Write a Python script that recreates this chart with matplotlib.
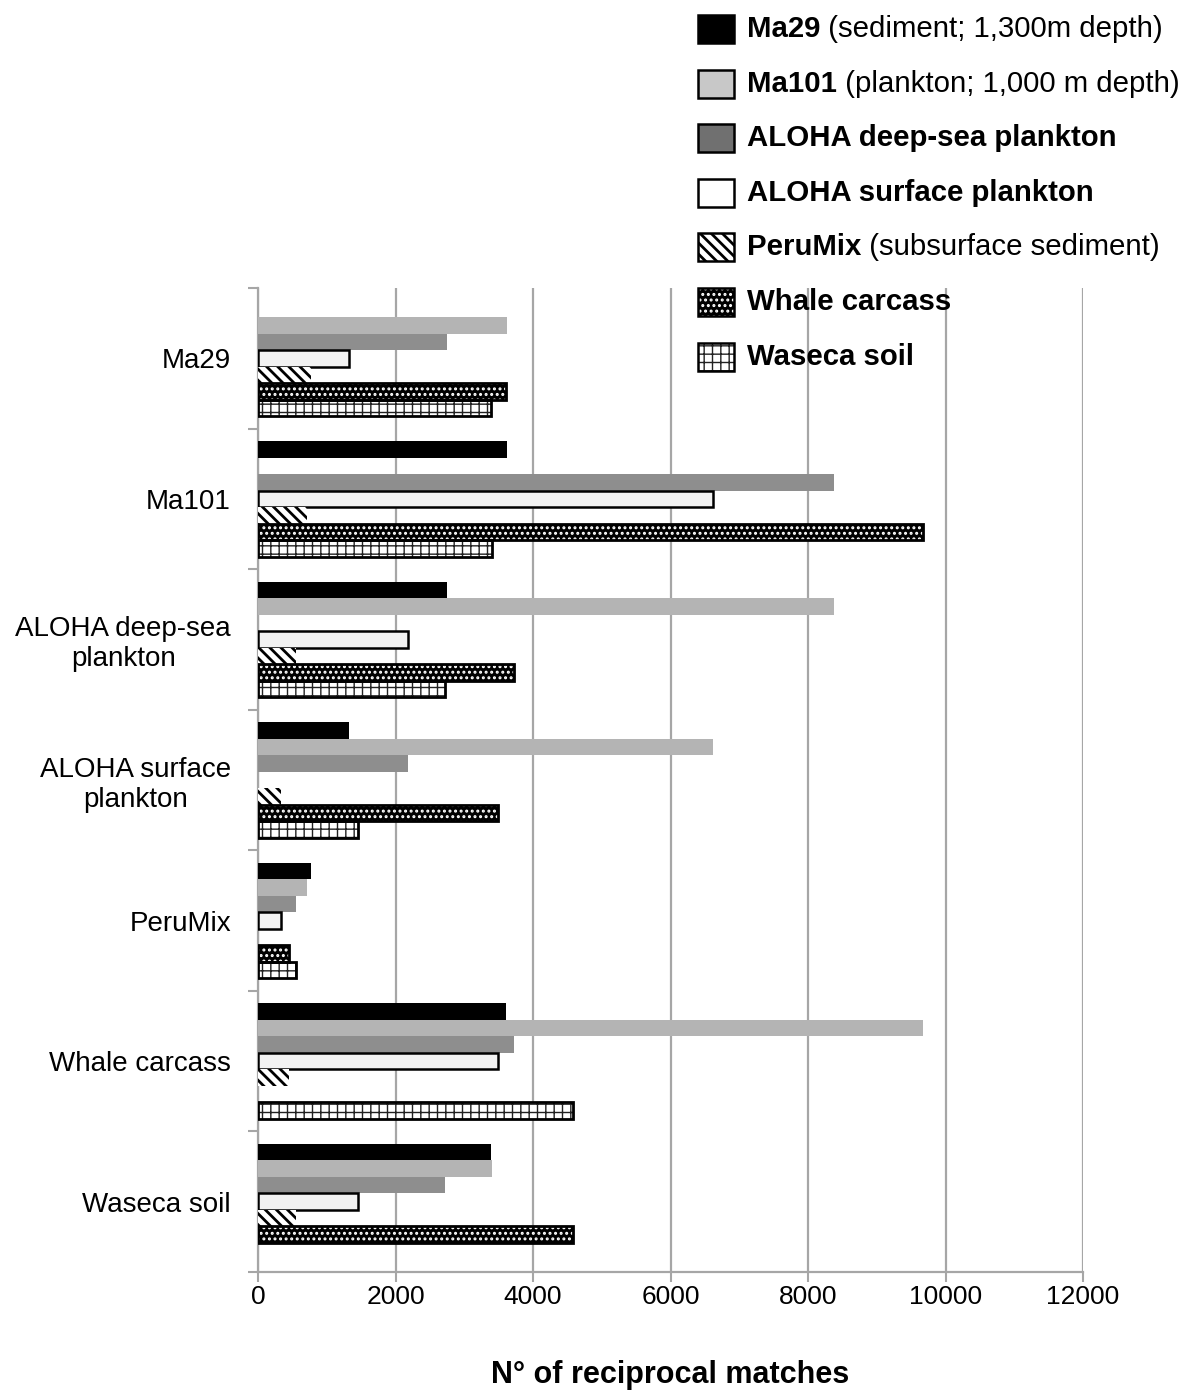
import numpy as np
import matplotlib
matplotlib.use("Agg")
import matplotlib.pyplot as plt
from matplotlib.patches import Rectangle

plt.rcParams["font.family"] = ["Liberation Sans", "DejaVu Sans"]

# metagenomes, in plotting order (top to bottom within each group)
samples = ["Ma29", "Ma101", "ALOHA deep-sea plankton", "ALOHA surface plankton",
           "PeruMix", "Whale carcass", "Waseca soil"]
tick_labels = ["Ma29", "Ma101", "ALOHA deep-sea\nplankton", "ALOHA surface\nplankton",
               "PeruMix", "Whale carcass", "Waseca soil"]

# reciprocal matches of each sample (group) against the others; self = 0
ma29 = [0, 3620, 2750, 1330, 770, 3610, 3390]
ma101 = [3620, 0, 8380, 6620, 710, 9670, 3400]
aloha_deep = [2750, 8380, 0, 2180, 550, 3730, 2720]
aloha_surface = [1330, 6620, 2180, 0, 330, 3490, 1460]
perumix = [770, 710, 550, 330, 0, 450, 550]
whale = [3610, 9670, 3730, 3490, 450, 0, 4580]
waseca = [3390, 3400, 2720, 1460, 550, 4580, 0]
series = [ma29, ma101, aloha_deep, aloha_surface, perumix, whale, waseca]

legend_bold = ["Ma29", "Ma101", "ALOHA deep-sea plankton", "ALOHA surface plankton",
               "PeruMix", "Whale carcass", "Waseca soil"]
legend_rest = [" (sediment; 1,300m depth)", " (plankton; 1,000 m depth)", "", "",
               " (subsurface sediment)", "", ""]

GRID = "#a6a6a6"
styles = [
    dict(face="black", hatch=None, hatch_col=None, hatch_lw=0, edge=None),
    dict(face="#b4b4b4", hatch=None, hatch_col=None, hatch_lw=0, edge=None),
    dict(face="#8e8e8e", hatch=None, hatch_col=None, hatch_lw=0, edge=None),
    dict(face="#f2f2f2", hatch=None, hatch_col=None, hatch_lw=0, edge="black"),
    dict(face="white", hatch="\\\\\\", hatch_col="black", hatch_lw=2.0, edge=None),
    dict(face="black", hatch="...", hatch_col="white", hatch_lw=1.4, edge="black"),
    dict(face="white", hatch="++", hatch_col="#222222", hatch_lw=1.0, edge="black"),
]
legend_face = ["black", "#c8c8c8", "#707070", "white", "white", "black", "white"]

fig = plt.figure(figsize=(11.94, 13.94), dpi=100)
ax = fig.add_axes([258 / 1194, 1 - 1272 / 1394, (1083 - 258) / 1194, (1272 - 288) / 1394])

n = len(samples)
h = 0.1175
y = np.arange(n)
for i, (vals, st) in enumerate(zip(series, styles)):
    vals = np.asarray(vals, dtype=float)
    keep = vals > 0  # no bar for a sample against itself
    pos = (y + (i - 3) * h)[keep]
    vals = vals[keep]
    if st["hatch"]:
        plt.rcParams["hatch.color"] = st["hatch_col"]
        plt.rcParams["hatch.linewidth"] = st["hatch_lw"]
        ax.barh(pos, vals, height=h, color=st["face"], hatch=st["hatch"],
                edgecolor=st["hatch_col"], linewidth=0, zorder=3)
        if st["edge"]:
            ax.barh(pos, vals, height=h, fill=False, edgecolor=st["edge"],
                    linewidth=2.0, zorder=4)
    else:
        ax.barh(pos, vals, height=h, color=st["face"],
                edgecolor=st["edge"] or "none", linewidth=1.8 if st["edge"] else 0,
                zorder=3)

ax.set_xlim(0, 12000)
ax.set_ylim(n - 0.5, -0.5)
ax.set_xticks(np.arange(0, 12001, 2000))
ax.set_yticks(y)
ax.set_yticklabels(tick_labels, multialignment="center")
ax.set_yticks(np.arange(-0.5, n, 1.0), minor=True)
ax.tick_params(axis="y", which="major", length=0, pad=19.5, labelsize=20)
ax.tick_params(axis="y", which="minor", length=7, width=1.5, color=GRID)
ax.tick_params(axis="x", length=7, width=1.5, color=GRID, pad=2, labelsize=19)
ax.xaxis.grid(True, color=GRID, linewidth=1.6, zorder=0)
ax.set_axisbelow(True)
for side in ("top", "right"):
    ax.spines[side].set_visible(False)
for side in ("left", "bottom"):
    ax.spines[side].set_color(GRID)
    ax.spines[side].set_linewidth(1.6)
ax.set_xlabel("N° of reciprocal matches", fontsize=22, fontweight="bold", labelpad=37)

# legend drawn by hand so that each entry can mix bold and regular text
sw_x, sw_w, sw_h = 698 / 1194, 36 / 1194, 28 / 1394
for k in range(n):
    yc = 1 - (29 + k * 54.6) / 1394
    st = styles[k]
    if st["hatch"]:
        plt.rcParams["hatch.color"] = st["hatch_col"]
        plt.rcParams["hatch.linewidth"] = st["hatch_lw"]
        fig.add_artist(Rectangle((sw_x, yc - sw_h / 2), sw_w, sw_h, transform=fig.transFigure,
                                 facecolor=legend_face[k], hatch=st["hatch"],
                                 edgecolor=st["hatch_col"], linewidth=0))
    else:
        fig.add_artist(Rectangle((sw_x, yc - sw_h / 2), sw_w, sw_h, transform=fig.transFigure,
                                 facecolor=legend_face[k], linewidth=0))
    fig.add_artist(Rectangle((sw_x, yc - sw_h / 2), sw_w, sw_h, transform=fig.transFigure,
                             fill=False, edgecolor="black", linewidth=1.8))
    t = fig.text(747 / 1194, yc, legend_bold[k], fontsize=21.2, fontweight="bold",
                 va="center", ha="left")
    if legend_rest[k]:
        ax.annotate(legend_rest[k], xy=(1, 0.5), xycoords=t, va="center", ha="left",
                    fontsize=21.2, annotation_clip=False)

fig.savefig("out.png", dpi=100)
